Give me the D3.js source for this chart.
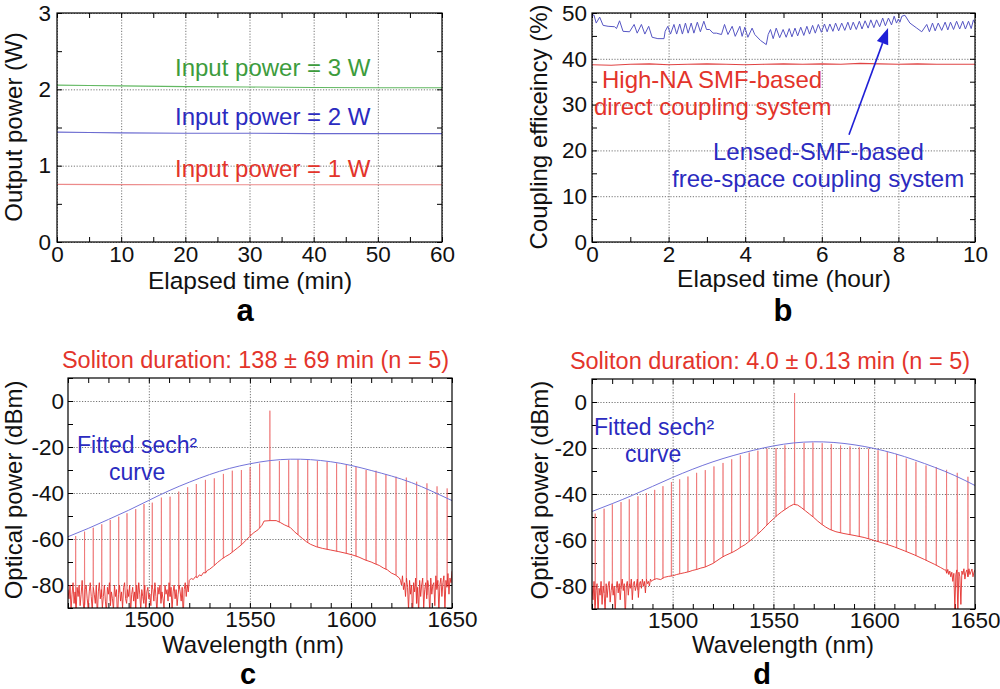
<!DOCTYPE html>
<html><head><meta charset="utf-8">
<script src="https://cdn.jsdelivr.net/npm/d3@7"></script>
<style>
body{margin:0;background:#fff;}
svg text{font-family:"Liberation Sans",Arial,Helvetica,sans-serif;}
.grid line{stroke:#666;stroke-width:0.9;stroke-dasharray:1.2,1.6;}
.grid path{display:none;}
.ax path{display:none;}
.ax line{stroke:#000;stroke-width:1;}
.ax text{font-size:22.5px;fill:#111;}
</style></head><body>
<svg id="fig" width="1000" height="689"></svg>
<script>
// ---------------- DATA ----------------
// Panel a: output power (W) vs elapsed time (min)
const aGreen = [[0,2.055],[5,2.05],[10,2.045],[20,2.035],[30,2.03],[40,2.025],[50,2.02],[60,2.02]];
const aBlue  = [[0,1.44],[5,1.435],[10,1.43],[20,1.425],[30,1.425],[40,1.42],[50,1.42],[60,1.42]];
const aRed   = [[0,0.755],[10,0.752],[20,0.75],[30,0.75],[40,0.75],[50,0.75],[60,0.75]];
const aXMajor = [0,10,20,30,40,50,60], aXMinor = [5,15,25,35,45,55];
const aYMajor = [0,1,2,3], aYMinor = [0.5,1.5,2.5];

// Panel b: coupling efficiency (%) vs elapsed time (hour)
const bLensed = [[0,49.3],[0.05,49.6],[0.11,47.8],[0.20,49.1],[0.29,47.3],[0.42,47.1],[0.59,47.0],[0.64,46.6],[0.72,48.3],[0.81,46.0],[0.98,45.9],[1.10,47.5],[1.18,45.6],[1.29,47.5],[1.38,45.4],[1.48,47.1],[1.57,44.7],[1.72,44.4],[1.88,44.4],[1.91,46.0],[1.98,47.1],[2.05,45.4],[2.14,47.5],[2.21,45.4],[2.29,47.6],[2.36,45.4],[2.44,47.8],[2.51,45.6],[2.59,47.8],[2.66,45.6],[2.75,48.0],[2.83,45.9],[2.92,48.2],[2.99,46.4],[3.07,46.4],[3.16,45.6],[3.25,45.6],[3.38,45.3],[3.46,47.5],[3.55,45.3],[3.66,47.1],[3.74,44.9],[3.86,47.1],[3.92,44.9],[3.99,46.9],[4.07,44.7],[4.18,46.7],[4.25,45.3],[4.40,44.0],[4.55,43.1],[4.60,45.3],[4.66,46.4],[4.73,44.4],[4.81,46.7],[4.90,44.6],[4.99,46.4],[5.07,44.7],[5.15,46.6],[5.22,44.8],[5.30,46.7],[5.37,45.0],[5.45,46.9],[5.53,45.1],[5.61,47.1],[5.68,45.4],[5.76,47.3],[5.83,45.6],[5.91,47.5],[5.99,45.8],[6.07,47.6],[6.14,45.9],[6.21,47.6],[6.29,46.0],[6.36,47.8],[6.44,46.1],[6.52,47.8],[6.60,46.2],[6.68,48.0],[6.75,46.3],[6.82,48.0],[6.90,46.4],[6.98,48.2],[7.05,46.5],[7.13,48.3],[7.21,46.7],[7.28,48.5],[7.36,46.8],[7.43,48.5],[7.51,47.0],[7.59,48.9],[7.66,47.2],[7.74,48.9],[7.82,47.4],[7.89,49.3],[7.95,47.8],[8.0,48.7],[8.04,48.0],[8.09,49.3],[8.17,49.5],[8.30,47.8],[8.48,46.7],[8.61,45.9],[8.74,47.5],[8.81,45.9],[8.89,47.8],[8.96,46.1],[9.04,47.8],[9.13,46.2],[9.22,48.0],[9.29,46.3],[9.36,48.0],[9.44,46.4],[9.52,48.2],[9.60,46.5],[9.68,48.2],[9.75,46.5],[9.83,48.2],[9.90,46.6],[9.96,48.5],[10,47.8]];
const bDirect = [[0,38.7],[0.5,38.6],[1,38.8],[1.5,38.9],[2,38.7],[2.5,38.8],[3,38.9],[3.5,38.8],[4,38.7],[4.5,38.8],[5,38.9],[5.5,38.8],[6,38.9],[6.5,38.8],[7,39.0],[7.5,38.9],[8,38.8],[8.5,38.9],[9,38.8],[9.5,38.8],[10,38.8]];
const bArrow = [[6.71,23.4],[7.73,46.7]];
const bXMajor = [0,2,4,6,8,10], bXMinor = [1,3,5,7,9];
const bYMajor = [0,10,20,30,40,50], bYMinor = [5,15,25,35,45];

// Panels c, d: optical spectra (dBm vs nm)
const specXMajor = [1500,1550,1600,1650];
const specXGrid = [1500,1550,1600];
const specXMinor = [1460,1470,1480,1490,1510,1520,1530,1540,1560,1570,1580,1590,1610,1620,1630,1640];
const specYMajor = [-80,-60,-40,-20,0];
const specYMinor = [-90,-70,-50,-30,-10,10];
const noiseStep = 0.5;

const cCombWl  = [1463.8,1468.2,1472.5,1476.7,1480.9,1485.1,1489.2,1493.5,1497.6,1501.7,1506.2,1510.5,1514.8,1519.2,1523.5,1528.0,1532.4,1536.9,1541.3,1545.8,1550.1,1554.8,1559.9,1564.6,1569.2,1573.8,1578.6,1583.4,1588.2,1592.9,1597.7,1602.5,1607.5,1612.4,1617.3,1622.3,1627.4,1632.5,1637.6,1642.6,1647.6];
const cCombTop = [-58.7,-56.8,-55.1,-53.6,-51.7,-50.3,-48.8,-47.0,-44.8,-44.2,-42.0,-41.6,-39.4,-37.5,-36.1,-34.3,-33.6,-31.7,-30.3,-30.0,-28.8,-27.2,-4.2,-26.1,-25.7,-25.4,-25.7,-26.1,-26.4,-27.1,-27.8,-28.6,-30.0,-30.3,-31.9,-32.9,-33.3,-35.1,-35.8,-37.1,-38.0];
const cEnvelope = [[1460,-59],[1470,-55.4],[1480,-51.5],[1490,-47.5],[1500,-43.2],[1510,-39],[1520,-35.3],[1530,-32],[1540,-29.3],[1550,-27.3],[1560,-25.9],[1570,-25.3],[1580,-25.5],[1590,-26.4],[1600,-28],[1610,-30.2],[1620,-32.6],[1630,-35.5],[1640,-39.2],[1650,-43.3]];
const cNoiseLeftStart = 1460;
const cNoiseLeft = [-82,-86,-80,-91,-84,-79,-88,-83,-92,-81,
 -85,-80,-89,-84,-78,-87,-93,-82,-80,-86,
 -90,-83,-79,-85,-91,-81,-84,-88,-80,-94,
 -83,-79,-86,-82,-90,-85,-80,-87,-92,-81,
 -84,-79,-89,-83,-86,-91,-80,-85,-82,-95,
 -84,-80,-87,-83,-90,-81,-79,-86,-88,-82,
 -85,-80,-92,-84,-81,-87,-83,-90,-80,-86,
 -79,-84,-91,-82,-85,-88,-80,-93,-83,-81,
 -86,-84,-89,-80,-82,-87,-79,-85,-92,-81,
 -84,-80,-88,-83,-86,-90,-80,-84,-82,-87,
 -79,-85,-81,-91,-83,-80,-86,-82,-89,-84,
 -80,-83,-87,-81,-94,-82,-79,-85,-80,-83,-78];
const cPedestal = [[1520.5,-77.5],[1521,-77.2],[1522,-77.6],[1523,-76.4],[1524,-76.8],[1525,-75.6],[1526,-76.0],[1527,-74.6],[1528,-74.8],[1529,-73.6],[1530,-73.2],[1532,-71.8],[1534,-70.2],[1536,-68.8],[1538,-67.6],[1540,-66.6],[1542,-65.2],[1544,-63.8],[1546,-62.4],[1548,-60.6],[1550,-58.8],[1552,-57.2],[1554,-56.0],[1556,-54.0],[1557,-52.2],[1560,-52.0],[1563,-52.0],[1565,-52.8],[1567,-53.8],[1570,-55.0],[1572,-56.8],[1574,-58.3],[1576,-59.8],[1578,-61.2],[1580,-62.3],[1583,-63.4],[1586,-64.1],[1590,-64.8],[1594,-65.5],[1598,-66.3],[1601,-67.0],[1604,-67.9],[1607,-69.1],[1610,-70.0],[1612,-70.8],[1614,-71.5],[1616,-72.6],[1618,-73.4],[1620,-74.8],[1622,-75.6],[1624,-77]];
const cNoiseRightStart = 1624.5;
const cNoiseRight = [-78,-80,-76,-82,-79,-85,-77,-81,-91,-78,
 -84,-80,-94,-79,-83,-77,-88,-81,-92,-78,
 -85,-80,-77,-90,-82,-79,-86,-78,-81,-93,
 -77,-84,-80,-79,-89,-76,-82,-78,-92,-80,
 -77,-85,-79,-76,-91,-78,-81,-75,-84,-77,-79,-74];

const dCombWl  = [1461.6,1466.0,1470.1,1474.4,1478.5,1482.8,1487.0,1491.1,1495.2,1499.4,1503.5,1507.6,1511.9,1516.2,1520.5,1525.0,1529.3,1533.6,1538.0,1542.3,1546.8,1551.3,1555.7,1560.5,1565.2,1569.6,1574.2,1578.7,1583.3,1588.0,1592.6,1597.2,1601.9,1606.5,1611.1,1615.9,1620.7,1625.7,1630.8,1635.9,1641.2,1646.5];
const dCombTop = [-48.5,-46.4,-44.5,-43.5,-42.3,-41.0,-39.6,-38.2,-36.6,-34.8,-33.6,-32.4,-30.8,-29.6,-28.0,-26.5,-24.9,-23.2,-22.0,-21.2,-20.3,-20.0,-18.8,3.9,-17.8,-17.6,-17.9,-18.3,-18.9,-19.3,-19.7,-20.3,-21.0,-21.8,-22.6,-24.6,-26.0,-27.6,-28.3,-29.5,-30.8,-32.5];
const dEnvelope = [[1460,-47.6],[1470,-44.2],[1480,-40.6],[1490,-36.7],[1500,-32.8],[1510,-29.2],[1520,-26],[1530,-23.3],[1540,-21],[1550,-19.1],[1560,-17.8],[1570,-17.3],[1580,-17.6],[1590,-18.6],[1600,-20.2],[1610,-22.4],[1620,-25.2],[1630,-28.4],[1640,-32],[1650,-36.3]];
const dNoiseLeftStart = 1460;
const dNoiseLeft = [-80,-86,-78,-90,-82,-79,-93,-81,-84,-78,
 -88,-80,-83,-91,-79,-85,-80,-78,-87,-82,
 -79,-84,-80,-92,-81,-78,-83,-79,-86,-80,
 -77,-82,-79,-94,-80,-78,-84,-79,-81,-77,
 -86,-79,-78,-82,-80,-77,-85,-79,-78,-81,
 -77,-80,-78,-83,-77,-79,-78,-80,-77,-78];
const dPedestal = [[1490,-77.5],[1492,-76.8],[1494,-77.2],[1496,-76.2],[1498,-75.8],[1500,-75.6],[1502,-75.0],[1504,-74.6],[1506,-74.2],[1508,-73.8],[1510,-73.2],[1512,-72.8],[1514,-72.2],[1516,-71.8],[1518,-71.0],[1520,-70.2],[1522,-69.0],[1524,-67.8],[1526,-66.8],[1528,-66.0],[1530,-65.2],[1532,-64.2],[1534,-63.0],[1536,-62.0],[1538,-60.6],[1540,-59.2],[1542,-57.6],[1544,-56.0],[1546,-54.2],[1548,-52.4],[1550,-50.8],[1552,-49.2],[1554,-47.8],[1556,-46.6],[1558,-45.4],[1560,-44.5],[1562,-44.8],[1564,-46.0],[1566,-47.4],[1568,-48.8],[1570,-50.2],[1572,-51.8],[1574,-53.2],[1576,-54.4],[1578,-55.4],[1581,-56.4],[1585,-57.2],[1590,-58.0],[1595,-58.9],[1600,-60.2],[1605,-61.5],[1610,-63.0],[1615,-64.7],[1620,-66.5],[1625,-68.5],[1630,-70.6],[1633,-72.0],[1635,-73.0]];
const dNoiseRightStart = 1635.5;
const dNoiseRight = [-73,-74.5,-72.8,-75,-73.5,-76,-74,-78,-74.5,-90,
 -75,-73,-92,-74,-76,-88,-73.5,-75,-72.5,-77,
 -74,-73,-76,-72.5,-75,-73.8,-72.6,-76,-74,-73];

// ---------------- DRAWING ----------------
const svg = d3.select("#fig");
svg.append("rect").attr("width",1000).attr("height",689).attr("fill","#fff");
const defs = svg.append("defs");

const RED = "#e3342b", BLUE = "#2b2bc0", GREEN = "#3d9c3d";

function addText(x, y, s, o = {}) {
  const t = svg.append("text").attr("x", x).attr("y", y)
    .attr("font-size", o.size || 24).attr("fill", o.fill || "#111")
    .attr("text-anchor", o.anchor || "start")
    .attr("font-weight", o.weight || "normal").text(s);
  if (o.rotate) t.attr("transform", `rotate(${o.rotate},${x},${y})`);
  return t;
}

function makePanel(cfg) {
  const [x0, y0, x1, y1] = cfg.box;
  const w = x1 - x0, h = y1 - y0;
  const g = svg.append("g").attr("transform", `translate(${x0},${y0})`);
  const x = d3.scaleLinear().domain(cfg.xDom).range([0, w]);
  const y = d3.scaleLinear().domain(cfg.yDom).range([h, 0]);
  defs.append("clipPath").attr("id", "clip-" + cfg.id).append("rect").attr("width", w).attr("height", h);
  g.append("g").attr("class", "grid").attr("transform", `translate(0,${h})`)
    .call(d3.axisBottom(x).tickValues(cfg.xGrid).tickSize(-h).tickFormat(""));
  g.append("g").attr("class", "grid")
    .call(d3.axisLeft(y).tickValues(cfg.yGrid).tickSize(-w).tickFormat(""));
  const all = (a, b) => Array.from(new Set(a.concat(b))).sort((p, q) => p - q);
  const fmt = maj => d => maj.includes(d) ? String(d) : "";
  const xt = all(cfg.xMajor, cfg.xMinor), yt = all(cfg.yMajor, cfg.yMinor);
  g.append("g").attr("class", "ax").attr("transform", `translate(0,${h})`)
    .call(d3.axisBottom(x).tickValues(xt).tickSize(-5).tickPadding(cfg.xPad).tickFormat(fmt(cfg.xMajor)));
  g.append("g").attr("class", "ax")
    .call(d3.axisTop(x).tickValues(xt).tickSize(-5).tickFormat(""));
  g.append("g").attr("class", "ax")
    .call(d3.axisLeft(y).tickValues(yt).tickSize(-5).tickPadding(cfg.yPad).tickFormat(fmt(cfg.yMajor)));
  g.append("g").attr("class", "ax").attr("transform", `translate(${w},0)`)
    .call(d3.axisRight(y).tickValues(yt).tickSize(-5).tickFormat(""));
  const plot = g.append("g").attr("clip-path", `url(#clip-${cfg.id})`);
  g.append("rect").attr("width", w).attr("height", h).attr("fill", "none")
    .attr("stroke", "#000").attr("stroke-width", 1.2);
  return { g, plot, x, y, w, h };
}

// ---- Panel a ----
const A = makePanel({ id: "a", box: [57, 13, 442, 242], xDom: [0, 60], yDom: [0, 3],
  xMajor: aXMajor, xMinor: aXMinor, yMajor: aYMajor, yMinor: aYMinor,
  xGrid: aXMajor, yGrid: aYMajor, xPad: 4, yPad: 6 });
const lineA = d3.line().x(d => A.x(d[0])).y(d => A.y(d[1]));
[[aGreen, "#62b862"], [aBlue, "#6a6ad0"], [aRed, "#ec8a8a"]].forEach(([s, c]) =>
  A.plot.append("path").attr("d", lineA(s)).attr("fill", "none").attr("stroke", c).attr("stroke-width", 1.1));
addText(175, 76, "Input power = 3 W", { fill: GREEN, size: 24 });
addText(175, 125, "Input power = 2 W", { fill: BLUE, size: 24 });
addText(175, 177, "Input power = 1 W", { fill: RED, size: 24 });
addText(250, 289, "Elapsed time (min)", { anchor: "middle", size: 24.5 });
addText(22, 127, "Output power (W)", { anchor: "middle", size: 24, rotate: -90 });
addText(245, 321, "a", { anchor: "middle", size: 31, weight: "bold", fill: "#000" });

// ---- Panel b ----
const B = makePanel({ id: "b", box: [592, 13, 975, 242], xDom: [0, 10], yDom: [0, 50],
  xMajor: bXMajor, xMinor: bXMinor, yMajor: bYMajor, yMinor: bYMinor,
  xGrid: bXMajor, yGrid: bYMajor, xPad: 4, yPad: 5 });
const lineB = d3.line().x(d => B.x(d[0])).y(d => B.y(d[1]));
B.plot.append("path").attr("d", lineB(bDirect)).attr("fill", "none").attr("stroke", "#e04444").attr("stroke-width", 1.1);
B.plot.append("path").attr("d", lineB(bLensed)).attr("fill", "none").attr("stroke", "#5656c4").attr("stroke-width", 1);
{
  const [t, p] = bArrow.map(d => [B.x(d[0]), B.y(d[1])]);
  const ang = Math.atan2(p[1] - t[1], p[0] - t[0]);
  const L = 16, W = 6;
  const bx = p[0] - L * Math.cos(ang), by = p[1] - L * Math.sin(ang);
  B.g.append("line").attr("x1", t[0]).attr("y1", t[1]).attr("x2", bx).attr("y2", by)
    .attr("stroke", "#1f1fd6").attr("stroke-width", 1.6);
  const nx = -Math.sin(ang), ny = Math.cos(ang);
  B.g.append("path").attr("d", `M${p[0]},${p[1]}L${bx + nx * W},${by + ny * W}L${bx - nx * W},${by - ny * W}Z`)
    .attr("fill", "#1f1fd6");
}
addText(602, 88, "High-NA SMF-based", { fill: RED, size: 24 });
addText(594, 115, "direct coupling system", { fill: RED, size: 24 });
addText(713, 160, "Lensed-SMF-based", { fill: BLUE, size: 24 });
addText(672, 187, "free-space coupling system", { fill: BLUE, size: 24 });
addText(784, 287, "Elapsed time (hour)", { anchor: "middle", size: 24.5 });
addText(547, 127, "Coupling efficeincy (%)", { anchor: "middle", size: 24, rotate: -90 });
addText(783, 321, "b", { anchor: "middle", size: 31, weight: "bold", fill: "#000" });

// ---- Spectra ----
function buildFloor(nl, nlStart, ped, nr, nrStart) {
  const pts = nl.map((v, i) => [nlStart + i * noiseStep, v]);
  ped.forEach(p => pts.push(p));
  nr.forEach((v, i) => pts.push([nrStart + i * noiseStep, v]));
  return pts.sort((a, b) => a[0] - b[0]);
}
function floorAt(pts, wl) {
  for (let i = 1; i < pts.length; i++) {
    if (pts[i][0] >= wl) {
      const [a, va] = pts[i - 1], [b, vb] = pts[i];
      return va + (vb - va) * (wl - a) / (b - a);
    }
  }
  return pts[pts.length - 1][1];
}
function drawSpectrum(P, floor, combWl, combTop, env) {
  const ln = d3.line().x(d => P.x(d[0])).y(d => P.y(d[1]));
  combWl.forEach((wl, i) => {
    const f = floorAt(floor, wl);
    P.plot.append("path").attr("d", ln([[wl - 0.1, f], [wl, combTop[i]], [wl + 0.1, f]]))
      .attr("fill", "none").attr("stroke", "#ec6a6a").attr("stroke-opacity", 0.7).attr("stroke-width", 1);
  });
  P.plot.append("path").attr("d", ln(floor)).attr("fill", "none")
    .attr("stroke", "#e3302c").attr("stroke-width", 0.9);
  P.plot.append("path").attr("d", ln.curve(d3.curveNatural)(env)).attr("fill", "none")
    .attr("stroke", "#7474da").attr("stroke-width", 1);
}

const C = makePanel({ id: "c", box: [68, 378, 452, 608], xDom: [1460, 1650], yDom: [-90, 10],
  xMajor: specXMajor, xMinor: specXMinor, yMajor: specYMajor, yMinor: specYMinor,
  xGrid: specXGrid, yGrid: specYMajor, xPad: 3, yPad: 4 });
drawSpectrum(C, buildFloor(cNoiseLeft, cNoiseLeftStart, cPedestal, cNoiseRight, cNoiseRightStart), cCombWl, cCombTop, cEnvelope);
addText(255.5, 368, "Soliton duration: 138 \u00b1 69 min (n = 5)", { anchor: "middle", fill: RED, size: 23.5 });
addText(77, 453, "Fitted sech\u00b2", { fill: BLUE, size: 23 });
addText(109, 480, "curve", { fill: BLUE, size: 23 });
addText(253, 653, "Wavelength (nm)", { anchor: "middle", size: 24 });
addText(22, 490, "Optical power (dBm)", { anchor: "middle", size: 24, rotate: -90 });
addText(248, 683.5, "c", { anchor: "middle", size: 29, weight: "bold", fill: "#000" });

const D = makePanel({ id: "d", box: [592, 379, 975, 609], xDom: [1460, 1650], yDom: [-90, 10],
  xMajor: specXMajor, xMinor: specXMinor, yMajor: specYMajor, yMinor: specYMinor,
  xGrid: specXGrid, yGrid: specYMajor, xPad: 3, yPad: 5 });
drawSpectrum(D, buildFloor(dNoiseLeft, dNoiseLeftStart, dPedestal, dNoiseRight, dNoiseRightStart), dCombWl, dCombTop, dEnvelope);
addText(770, 369, "Soliton duration: 4.0 \u00b1 0.13 min (n = 5)", { anchor: "middle", fill: RED, size: 23.5 });
addText(594, 435, "Fitted sech\u00b2", { fill: BLUE, size: 23 });
addText(625, 462, "curve", { fill: BLUE, size: 23 });
addText(783, 653, "Wavelength (nm)", { anchor: "middle", size: 24 });
addText(548, 490, "Optical power (dBm)", { anchor: "middle", size: 24, rotate: -90 });
addText(762, 683.5, "d", { anchor: "middle", size: 29, weight: "bold", fill: "#000" });
</script>
</body></html>
